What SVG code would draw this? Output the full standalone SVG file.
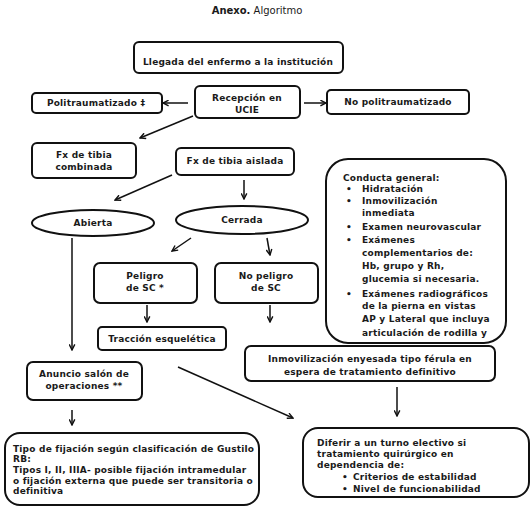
<svg xmlns="http://www.w3.org/2000/svg" width="531" height="508" viewBox="0 0 531 508">
<defs>
<style>
.b{fill:#fff;stroke:#111;stroke-width:2}
.t{font-family:"DejaVu Sans",Verdana,sans-serif;font-size:9px;font-weight:bold;fill:#1a1a1a;letter-spacing:0.2px}
.c{text-anchor:middle}
.ln{stroke:#111;stroke-width:1.5;fill:none;marker-end:url(#ah)}
</style>
<marker id="ah" viewBox="0 0 10 10" refX="9" refY="5" markerWidth="7" markerHeight="7" markerUnits="userSpaceOnUse" orient="auto">
<path d="M1,1 L9,5 L1,9" fill="none" stroke="#111" stroke-width="2"/>
</marker>
</defs>
<rect width="531" height="508" fill="#fff"/>
<text x="257" y="14" class="c" style="font-family:'DejaVu Sans',Verdana,sans-serif;font-size:10px;fill:#1a1a1a"><tspan font-weight="bold">Anexo.</tspan> Algoritmo</text>

<g id="llegada"><rect class="b" x="134" y="42" width="209" height="31" rx="5"/><text class="t c" x="238" y="65">Llegada del enfermo a la institución</text></g>
<g id="recepcion"><rect class="b" x="195" y="86" width="105" height="32" rx="5"/><text class="t c" x="247" y="101">Recepción en</text><text class="t c" x="247" y="113">UCIE</text></g>
<g id="politrauma"><rect class="b" x="32" y="93" width="130" height="20" rx="4"/><text class="t c" x="96" y="106">Politraumatizado ‡</text></g>
<g id="nopolitrauma"><rect class="b" x="327" y="90" width="142" height="24" rx="4"/><text class="t c" x="398" y="105">No politraumatizado</text></g>
<g id="combinada"><rect class="b" x="32" y="143" width="104" height="35" rx="5"/><text class="t c" x="84" y="158">Fx de tibia</text><text class="t c" x="84" y="170">combinada</text></g>
<g id="aislada"><rect class="b" x="176" y="148" width="118" height="27" rx="5"/><text class="t c" x="235" y="164">Fx de tibia aislada</text></g>
<g id="abierta"><ellipse class="b" cx="93" cy="223" rx="61" ry="13"/><text class="t c" x="93" y="226">Abierta</text></g>
<g id="cerrada"><ellipse class="b" cx="242" cy="220" rx="66" ry="14"/><text class="t c" x="242" y="223">Cerrada</text></g>
<g id="conducta"><rect class="b" x="326" y="159" width="180" height="184" rx="22"/>
<text class="t" x="343" y="181">Conducta general:</text>
<text class="t" x="346" y="192">•</text><text class="t" x="362" y="192">Hidratación</text>
<text class="t" x="346" y="204">•</text><text class="t" x="362" y="204">Inmovilización</text>
<text class="t" x="362" y="216">inmediata</text>
<text class="t" x="346" y="230">•</text><text class="t" x="362" y="230">Examen neurovascular</text>
<text class="t" x="346" y="243">•</text><text class="t" x="362" y="243">Exámenes</text>
<text class="t" x="362" y="256">complementarios de:</text>
<text class="t" x="362" y="269">Hb, grupo y Rh,</text>
<text class="t" x="362" y="282">glucemia si necesaria.</text>
<text class="t" x="346" y="297">•</text><text class="t" x="362" y="297">Exámenes radiográficos</text>
<text class="t" x="362" y="309">de la pierna en vistas</text>
<text class="t" x="362" y="322">AP y Lateral que incluya</text>
<text class="t" x="362" y="336">articulación de rodilla y</text>
</g>
<g id="peligro"><rect class="b" x="94" y="263" width="103" height="40" rx="6"/><text class="t c" x="145" y="279">Peligro</text><text class="t c" x="145" y="291">de SC *</text></g>
<g id="nopeligro"><rect class="b" x="215" y="263" width="103" height="40" rx="6"/><text class="t c" x="266" y="279">No peligro</text><text class="t c" x="266" y="291">de SC</text></g>
<g id="traccion"><rect class="b" x="98" y="327" width="128" height="23" rx="4"/><text class="t c" x="162" y="342">Tracción esquelética</text></g>
<g id="inmovilizacion"><rect class="b" x="245" y="346" width="250" height="35" rx="6"/><text class="t c" x="370" y="362">Inmovilización enyesada tipo férula en</text><text class="t c" x="370" y="375">espera de tratamiento definitivo</text></g>
<g id="anuncio"><rect class="b" x="27" y="362" width="115" height="38" rx="6"/><text class="t c" x="84" y="377">Anuncio salón de</text><text class="t c" x="84" y="389">operaciones **</text></g>
<g id="tipo"><rect class="b" x="5" y="433" width="254" height="72" rx="15"/>
<text class="t" x="13" y="452">Tipo de fijación según clasificación de Gustilo</text>
<text class="t" x="13" y="462">RB:</text>
<text class="t" x="13" y="473">Tipos I, II, IIIA- posible fijación intramedular</text>
<text class="t" x="13" y="484">o fijación externa que puede ser transitoria o</text>
<text class="t" x="13" y="494">definitiva</text>
</g>
<g id="diferir"><rect class="b" x="303" y="428" width="226" height="69" rx="15"/>
<text class="t" x="317" y="446">Diferir a un turno electivo si</text>
<text class="t" x="317" y="457">tratamiento quirúrgico en</text>
<text class="t" x="317" y="468">dependencia de:</text>
<text class="t" x="342" y="480">•</text><text class="t" x="353" y="480">Criterios de estabilidad</text>
<text class="t" x="342" y="492">•</text><text class="t" x="353" y="492">Nivel de funcionabilidad</text>
</g>

<g id="connectors">
<line class="ln" x1="188" y1="103" x2="163" y2="103"/>
<line class="ln" x1="304" y1="103" x2="326" y2="103"/>
<line class="ln" x1="193" y1="116" x2="140" y2="138"/>
<line class="ln" x1="172" y1="175" x2="115" y2="200"/>
<line class="ln" x1="244" y1="180" x2="244" y2="199"/>
<line class="ln" x1="191" y1="238" x2="172" y2="251"/>
<line class="ln" x1="267" y1="238" x2="270" y2="255"/>
<line class="ln" x1="72" y1="238" x2="72" y2="350"/>
<line class="ln" x1="147" y1="305" x2="147" y2="322"/>
<line class="ln" x1="270" y1="305" x2="270" y2="322"/>
<line class="ln" x1="178" y1="367" x2="293" y2="418"/>
<line class="ln" x1="397" y1="387" x2="397" y2="416"/>
<line class="ln" x1="72" y1="410" x2="72" y2="425"/>
</g>
</svg>
